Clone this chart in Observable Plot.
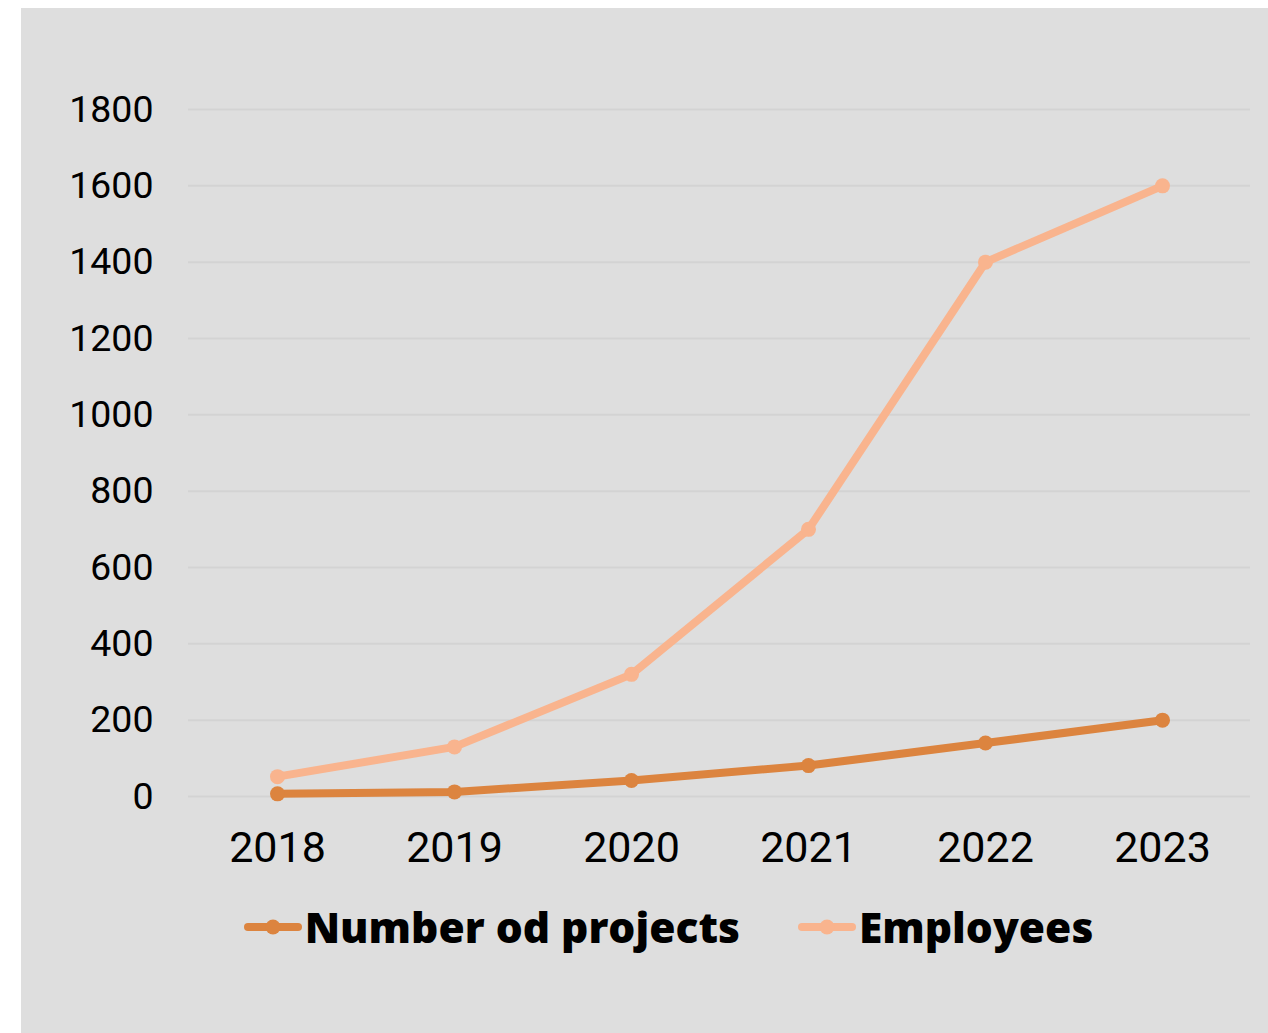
<!DOCTYPE html>
<html><head><meta charset="utf-8">
<script src="https://cdn.jsdelivr.net/npm/d3@7"></script>
<script src="https://cdn.jsdelivr.net/npm/@observablehq/plot@0.6"></script>
<style>
html,body{margin:0;padding:0;background:#fff;}
#panel{position:absolute;left:21px;top:8px;width:1247px;height:1025px;background:#dedede;}
#legend{position:absolute;left:0;top:890px;width:1247px;display:flex;justify-content:center;align-items:center;gap:58px;font-family:"Open Sans",sans-serif;font-weight:800;font-size:42.5px;color:#000;padding-left:48px;box-sizing:border-box;}
.item{display:flex;align-items:center;gap:3px;}
</style></head><body>
<div id="panel"><div id="chart"></div><div id="legend"></div></div>
<script>
const years = ["2018","2019","2020","2021","2022","2023"];
const projects = [7, 12, 42, 81, 140, 200];
const employees = [52, 130, 320, 700, 1400, 1600];
const seriesNames = ["Number od projects", "Employees"];
const seriesColors = ["#dc843f", "#f9b48e"];
const yTicks = [0,200,400,600,800,1000,1200,1400,1600,1800];

const data = [];
years.forEach((y,i)=>{
  data.push({year:y, value:projects[i], series:seriesNames[0]});
  data.push({year:y, value:employees[i], series:seriesNames[1]});
});

const plot = Plot.plot({
  width:1247, height:870,
  marginLeft:167, marginRight:18, marginTop:101, marginBottom:82,
  style:{fontFamily:"Roboto, sans-serif", fontSize:"36px", color:"#000", background:"transparent"},
  x:{type:"point", domain:years, padding:0.5, label:null},
  y:{domain:[0,1800], label:null},
  color:{domain:seriesNames, range:seriesColors},
  marks:[
    Plot.gridY(yTicks,{stroke:"#d3d3d3", strokeOpacity:1, strokeWidth:2}),
    Plot.axisY({ticks:yTicks, tickSize:0, tickPadding:35, tickFormat:d=>String(d), fontSize:37.5, label:null}),
    Plot.axisX({tickSize:0, tickPadding:35, fontSize:43, label:null}),
    Plot.line(data,{x:"year", y:"value", z:"series", stroke:"series", strokeWidth:8, strokeLinecap:"round", strokeLinejoin:"round"}),
    Plot.dot(data,{x:"year", y:"value", fill:"series", r:7.5})
  ]
});
document.getElementById("chart").appendChild(plot);

const legend = document.getElementById("legend");
seriesNames.forEach((n,i)=>{
  const it = document.createElement("div"); it.className="item";
  it.innerHTML = `<svg width="58" height="18"><line x1="4" y1="9" x2="54" y2="9" stroke="${seriesColors[i]}" stroke-width="8" stroke-linecap="round"/><circle cx="29" cy="9" r="7.5" fill="${seriesColors[i]}"/></svg><span>${n}</span>`;
  legend.appendChild(it);
});
</script>
</body></html>
